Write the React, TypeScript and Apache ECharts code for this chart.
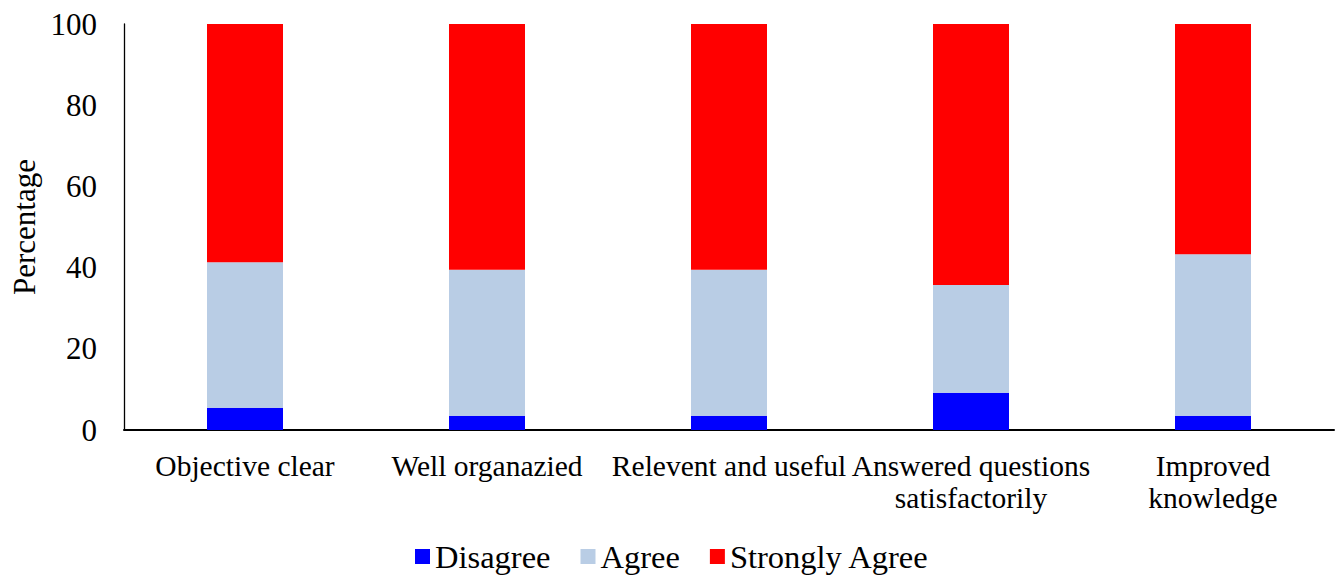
import React, { useEffect, useRef } from "react";
import * as echarts from "echarts";

const categories = [
  "Objective clear",
  "Well organazied",
  "Relevent and useful",
  "Answered questions\nsatisfactorily",
  "Improved\nknowledge",
];
const disagree = [5.5, 3.5, 3.5, 9.2, 3.5];
const agree = [35.8, 36.0, 36.0, 26.5, 39.8];
const stronglyAgree = [58.7, 60.5, 60.5, 64.3, 56.7];
const yTicks = { min: 0, max: 100, interval: 20 };

const FONT = "'Liberation Serif', 'Times New Roman', serif";

export default function App() {
  const ref = useRef<HTMLDivElement>(null);
  useEffect(() => {
    if (!ref.current) return;
    const chart = echarts.init(ref.current, null, { renderer: "svg" });
    chart.setOption({
      animation: false,
      backgroundColor: "#ffffff",
      textStyle: { fontFamily: FONT, color: "#000" },
      grid: {
        left: 124,
        right: 5,
        top: 24,
        bottom: 145,
        containLabel: false,
        outerBoundsMode: "none",
      },
      legend: {
        left: 410,
        top: 535,
        itemWidth: 15,
        itemHeight: 15,
        itemGap: 30,
        icon: "rect",
        textStyle: { fontFamily: FONT, fontSize: 32.5, color: "#000", padding: [0, 0, 0, 0] },
        data: ["Disagree", "Agree", "Strongly Agree"],
      },
      xAxis: {
        type: "category",
        data: categories,
        axisLine: { show: true, lineStyle: { color: "#000", width: 2 } },
        axisTick: { show: false },
        axisLabel: {
          interval: 0,
          margin: 20,
          fontFamily: FONT,
          fontSize: 29.5,
          color: "#000",
          lineHeight: 32,
        },
      },
      yAxis: {
        type: "value",
        min: yTicks.min,
        max: yTicks.max,
        interval: yTicks.interval,
        name: "Percentage",
        nameLocation: "middle",
        nameGap: 84,
        nameRotate: 90,
        nameTextStyle: { fontFamily: FONT, fontSize: 31, color: "#000" },
        axisLine: { show: true, lineStyle: { color: "#000", width: 1.3 } },
        axisTick: { show: false },
        splitLine: { show: false },
        axisLabel: { margin: 27, fontFamily: FONT, fontSize: 31, color: "#000" },
      },
      series: [
        { name: "Disagree", type: "bar", stack: "total", barWidth: 76, data: disagree, itemStyle: { color: "#0000FF" } },
        { name: "Agree", type: "bar", stack: "total", barWidth: 76, data: agree, itemStyle: { color: "#B9CDE5" } },
        { name: "Strongly Agree", type: "bar", stack: "total", barWidth: 76, data: stronglyAgree, itemStyle: { color: "#FF0000" } },
      ],
    });
    return () => chart.dispose();
  }, []);
  return (
    <div
      ref={ref}
      style={{ position: "fixed", left: 0, top: 0, width: 1339, height: 575, background: "#fff" }}
    />
  );
}
